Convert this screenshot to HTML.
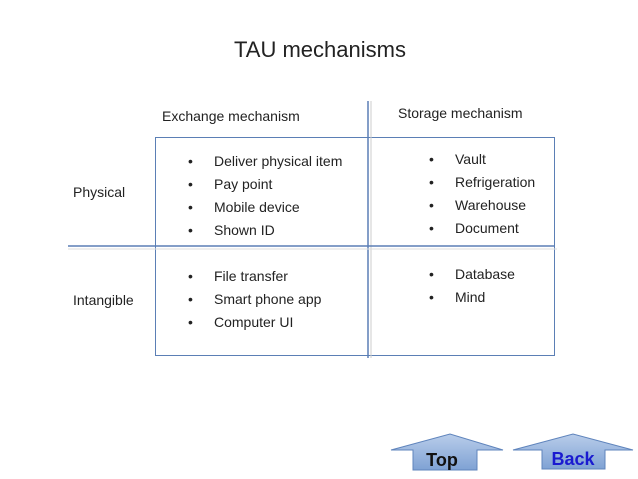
<!DOCTYPE html>
<html><head><style>
body{margin:0;width:638px;height:479px;background:#fff;position:relative;font-family:"Liberation Sans",sans-serif;overflow:hidden}
.t{position:absolute;font-size:14px;color:#222;white-space:nowrap}
.b{position:absolute;font-size:14px;color:#222;line-height:23px;white-space:nowrap}
.b span{display:inline-block;width:26px}
.b.r span{width:26px}
</style></head><body>
<div class="t" style="left:234px;top:37px;font-size:22px">TAU mechanisms</div>
<div class="t" style="left:162px;top:108px">Exchange mechanism</div>
<div class="t" style="left:398px;top:105px">Storage mechanism</div>
<div class="t" style="left:73px;top:184px">Physical</div>
<div class="t" style="left:73px;top:292px">Intangible</div>
<svg width="638" height="479" style="position:absolute;left:0;top:0">
<rect x="155.5" y="137.5" width="399" height="218" fill="none" stroke="#5b7fb5" stroke-width="1"/>
<line x1="368" y1="101" x2="368" y2="358" stroke="#5b7fb5" stroke-width="1.5"/>
<line x1="371" y1="101" x2="371" y2="358" stroke="#ccc" stroke-width="1"/>
<line x1="68" y1="246" x2="555" y2="246" stroke="#5b7fb5" stroke-width="1.5"/>
<line x1="68" y1="249" x2="557" y2="249" stroke="#ddd" stroke-width="1"/>
<defs><linearGradient id="g" x1="0" y1="0" x2="0" y2="1"><stop offset="0" stop-color="#b9cdea"/><stop offset="1" stop-color="#7fa2d4"/></linearGradient></defs>
<polygon points="391,450 450,434 503,450 477,450 477,470 413,470 413,450" fill="url(#g)" stroke="#5f84bc"/>
<polygon points="513,450 573,434 633,450 605,450 605,469 542,469 542,450" fill="url(#g)" stroke="#5f84bc"/>
<text x="442" y="466" text-anchor="middle" font-family="Liberation Sans" font-weight="bold" font-size="18" fill="#111">Top</text>
<text x="573" y="465" text-anchor="middle" font-family="Liberation Sans" font-weight="bold" font-size="18" fill="#1a1ad0">Back</text>
</svg>
<div class="b" style="left:188px;top:150px"><span>•</span>Deliver physical item<br><span>•</span>Pay point<br><span>•</span>Mobile device<br><span>•</span>Shown ID</div>
<div class="b" style="left:429px;top:148px"><span>•</span>Vault<br><span>•</span>Refrigeration<br><span>•</span>Warehouse<br><span>•</span>Document</div>
<div class="b" style="left:188px;top:265px"><span>•</span>File transfer<br><span>•</span>Smart phone app<br><span>•</span>Computer UI</div>
<div class="b" style="left:429px;top:263px"><span>•</span>Database<br><span>•</span>Mind</div>
</body></html>
